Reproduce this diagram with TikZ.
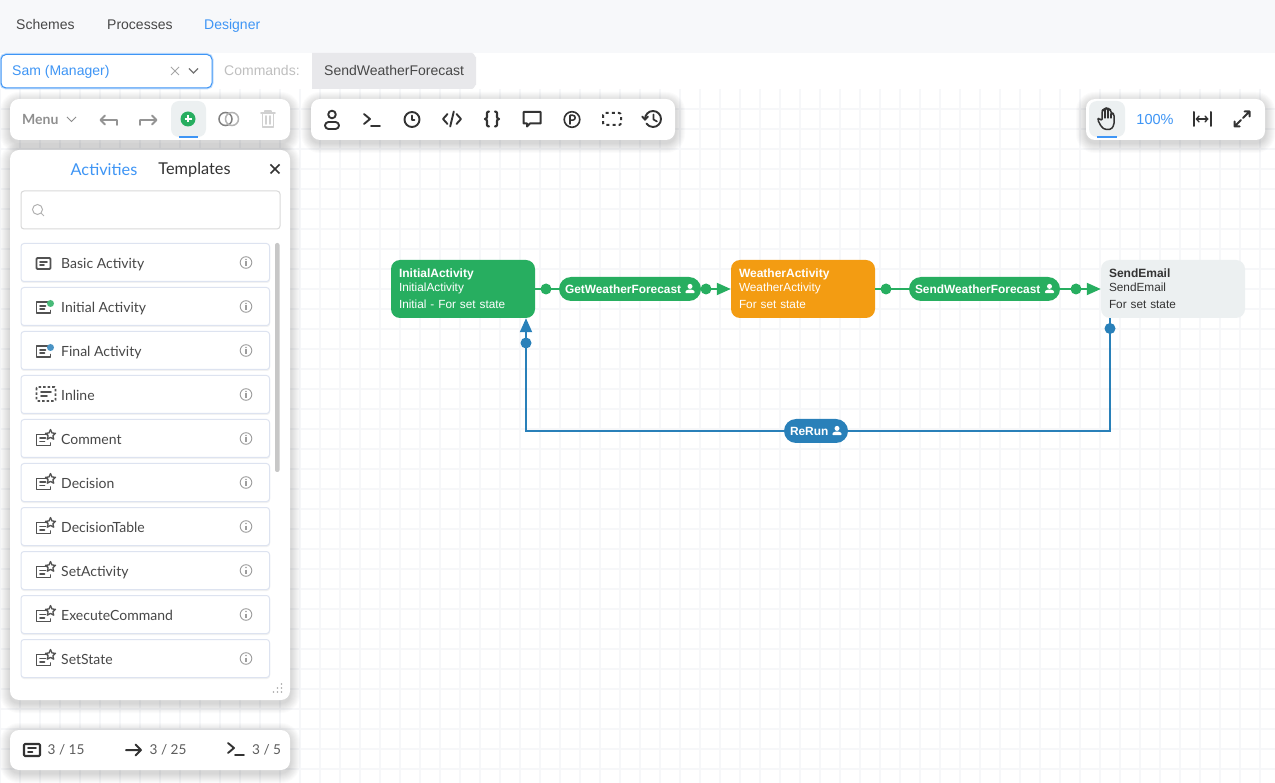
\documentclass[tikz,border=0pt]{standalone}
\usepackage{fontspec}
\setmainfont{Liberation Sans}
\newfontfamily\latofont{Lato}
\usetikzlibrary{arrows.meta,positioning}
\definecolor{flatgreen}{HTML}{27AE60}
\definecolor{flatorange}{HTML}{F39C12}
\definecolor{flatgrey}{HTML}{ECF0F1}
\definecolor{flatblue}{HTML}{2980B9}
\definecolor{uiblue}{HTML}{3E95F5}
\definecolor{gridc}{HTML}{F6F7F9}
\definecolor{topbar}{HTML}{F7F8FA}
\definecolor{cmdbg}{HTML}{E8E8EB}
\definecolor{ink}{HTML}{333333}
\definecolor{muted}{HTML}{8F8F8F}
\definecolor{itemborder}{HTML}{DDE3F0}
\newcommand{\fsz}[1]{\fontsize{#1}{14pt}\selectfont}
\newcommand{\panelbox}[4]{%
  \foreach \sh in {10,9,...,1}{\fill[black,opacity=0.016,rounded corners=9+\sh] (#1-\sh,#2-\sh+3) rectangle (#3+\sh,#4+\sh+3);}
  \fill[white,rounded corners=9] (#1,#2) rectangle (#3,#4);}
\tikzset{
  x=1pt,y=-1pt,
  act/.style={rounded corners=9,minimum height=58,text width=128,inner xsep=8,inner ysep=0,align=left,font=\fsz{11.8}},
  pillnode/.style={rounded corners=12,minimum height=24,inner xsep=6,inner ysep=0,align=left,text=white,font=\bfseries\fsz{11.9}},
  gdot/.style={circle,fill=flatgreen,minimum size=11,inner sep=0},
  bdot/.style={circle,fill=flatblue,minimum size=11,inner sep=0},
  gedge/.style={draw=flatgreen,line width=2},
  garrow/.style={draw=flatgreen,line width=2,-{Triangle[length=14,width=12]}},
  bedge/.style={draw=flatblue,line width=2},
  barrow/.style={draw=flatblue,line width=2,-{Triangle[length=14,width=12]}},
  topnav/.style={font=\fsz{14},text=#1,inner sep=0,text height=10,text depth=0},
  itemtext/.style={font=\latofont\fsz{14},text=ink!90,anchor=west,inner sep=0,text height=10,text depth=0},
  ico/.style={draw=ink,line width=1.9,line cap=round,line join=round},
  pics/iuser/.style={code={\draw[ico] (0,-5.5) circle (3.8);\draw[ico,rounded corners=3.5] (-7,2) rectangle (7,9);}},
  pics/iterm/.style={code={\draw[ico] (-8,-6)--(-2,-1)--(-8,4) (-1,6)--(8,6);}},
  pics/iclock/.style={code={\draw[ico] (0,0) circle (7.5);\draw[ico] (0,-4)--(0,0.5)--(2.5,0.5);}},
  pics/icode/.style={code={\draw[ico] (-4.5,-5)--(-9,0)--(-4.5,5) (4.5,-5)--(9,0)--(4.5,5) (1.8,-7.5)--(-1.8,7.5);}},
  pics/ibrace/.style={code={\draw[ico,line width=2.2] (-3,-7.5)..controls (-6,-7.5) and (-5,-4) ..(-5,-2)..controls (-5,-1) and (-6,0) ..(-7,0)..controls (-6,0) and (-5,1) ..(-5,2)..controls (-5,4) and (-6,7.5) ..(-3,7.5);
     \draw[ico,line width=2.2] (3,-7.5)..controls (6,-7.5) and (5,-4) ..(5,-2)..controls (5,-1) and (6,0) ..(7,0)..controls (6,0) and (5,1) ..(5,2)..controls (5,4) and (6,7.5) ..(3,7.5);}},
  pics/icomment/.style={code={\draw[ico,line width=2] (-8.5,-6.5)--(8.5,-6.5)--(8.5,5)--(-2,5)--(-5,8)--(-5,5)--(-8.5,5)--cycle;}},
  pics/ipark/.style={code={\draw[ico,line width=1.6] (0,0) circle (7.8);\draw[ico,line width=1.6] (-2,4.5)--(-2,-4.2)--(0.8,-4.2) arc[start angle=-90,end angle=90,radius=2.4]--(-2,0.6);}},
  pics/idash/.style={code={\draw[ico,line width=2,dash pattern=on 3pt off 3.2pt,rounded corners=2,line cap=butt] (-9,-6) rectangle (9,6);}},
  pics/ihist/.style={code={\draw[ico,line width=1.9] (-8,0) arc[start angle=180,end angle=505,radius=8]; \draw[ico,line width=1.9] (-10.8,-2.5)--(-8,0.7)--(-5,-2.5); \draw[ico,line width=1.7] (0.5,-4.5)--(0.5,0.5)--(4,2.5);}},
  pics/iundo/.style={code={\draw[ico,draw=black!42] (-8,0)--(8,0)--(8,5) (-4,-4.5)--(-8.5,0)--(-4,4.5);}},
  pics/iredo/.style={code={\draw[ico,draw=black!42] (8,0)--(-8,0)--(-8,5) (4,-4.5)--(8.5,0)--(4,4.5);}},
  pics/itrash/.style={code={\draw[ico,draw=black!18,line width=1.6] (-7,-6)--(7,-6) (-3,-6)--(-3,-8)--(3,-8)--(3,-6) (-5.5,-6)--(-5.5,8)--(5.5,8)--(5.5,-6) (-2,-3)--(-2,5) (2,-3)--(2,5);}},
  pics/ihand/.style={code={\draw[ico,line width=1.5,rounded corners=1.6] (-5,2)--(-8,-1)--(-9.5,0.5)--(-5.5,8)--(-2,10.5)--(4,10.5)--(7,6)--(7,-5)--(5,-6.2)--(4,-5)--(4,-9)--(2,-10)--(1,-9)--(1,-10.5)--(-1,-11)--(-2,-10)--(-2,-9)--(-4,-9.5)--(-5,-8)--cycle;\draw[ico,line width=1.3] (-2,-9)--(-2,-1) (1,-9)--(1,-1) (4,-5)--(4,-1);}},
  pics/ifit/.style={code={\draw[ico,line width=2] (-8.5,-7)--(-8.5,7) (8.5,-7)--(8.5,7) (-5.5,0)--(5.5,0);\draw[ico,line width=1.4] (-3,-2.8)--(-5.7,0)--(-3,2.8) (3,-2.8)--(5.7,0)--(3,2.8);}},
  pics/iexpand/.style={code={\draw[ico,line width=2] (1,-1)--(7.5,-7.5) (2.5,-7.5)--(7.5,-7.5)--(7.5,-2.5) (-1,1)--(-7.5,7.5) (-7.5,2.5)--(-7.5,7.5)--(-2.5,7.5);}},
  pics/icard/.style={code={\draw[ico,line width=1.8,draw=ink!85,rounded corners=1] (-7,-5.5)rectangle(7,5.5);\draw[ico,line width=1.6,draw=ink!85] (-3.5,-1.5)--(3.5,-1.5) (-3.5,1.7)--(0.5,1.7);}},
  pics/icardb/.style={code={\draw[ico,line width=2.1,rounded corners=1] (-8,-6)rectangle(8,6);\draw[ico,line width=1.8] (-4,-1.7)--(4,-1.7) (-4,2)--(0.5,2);}},
  pics/iecard/.style={code={\draw[ico,line width=1.8,draw=ink!85] (4,-5.5)--(-7,-5.5)--(-7,5.5)--(7,5.5)--(7,3);\draw[ico,line width=1.6,draw=ink!85] (-3.5,-1.7)--(2,-1.7) (-3.5,1.7)--(1,1.7);}},
  pics/istar/.style={code={\draw[ico,line width=1.3,draw=ink!85] (0,-5.5)--(1.5,-2)--(5,-1.7)--(2.4,0.7)--(3.2,4.2)--(0,2.4)--(-3.2,4.2)--(-2.4,0.7)--(-5,-1.7)--(-1.5,-2)--cycle;}},
  pics/iinline/.style={code={\draw[ico,line width=1.9,draw=ink!85,dash pattern=on 2.5pt off 2pt,line cap=butt,rounded corners=1] (-9.5,-7)rectangle(9.5,7);\draw[ico,line width=1.6,draw=ink!85] (-5,-2)--(5,-2) (-5,2)--(1,2);}},
  pics/iinfo/.style={code={\draw[draw=black!38,line width=0.9] (0,0) circle (5.8);\fill[black!38] (0,-3) circle (0.8);\draw[draw=black!38,line width=1.1] (0,-1)--(0,3.2);}},
  pics/ipers/.style={code={\fill[white] (0,-2.3) circle (2.5);\fill[white,rounded corners=1] (-4.7,4.4)--(-4.7,2.4)--(-2,0.9)--(2,0.9)--(4.7,2.4)--(4.7,4.4)--cycle;}},
}
\begin{document}
\begin{tikzpicture}
\useasboundingbox (0,0) rectangle (1275,783);
\fill[white] (0,0) rectangle (1275,783);
% grid
\foreach \gx in {0,20,...,1260} \draw[gridc,line width=1.4] (\gx,89)--(\gx,783);
\foreach \gy in {109,129,...,769} \draw[gridc,line width=1.4] (0,\gy)--(1275,\gy);
% top bars
\fill[topbar] (0,0) rectangle (1275,53);
\fill[white] (0,53) rectangle (1275,89);
\node[topnav=ink!90,anchor=west] (navschemes) at (16,25) {Schemes};
\node[topnav=ink!90,anchor=west] (navprocesses) at (107,25) {Processes};
\node[topnav=uiblue,anchor=west] (navdesigner) at (204,25) {Designer};
% select
\draw[uiblue!30,line width=3,rounded corners=5] (1,54.5) rectangle (212,88);
\draw[uiblue,line width=1,fill=white,rounded corners=5] (1,54.5) rectangle (212,88);
\node[topnav=uiblue,anchor=west] (selname) at (12,71) {Sam (Manager)};
\draw[black!35,line width=1] (171,67)--(179,75) (179,67)--(171,75);
\draw[black!55,line width=1.1] (189,68.5)--(193.5,73)--(198,68.5);
\node[topnav=black!25,anchor=west] (cmdlabel) at (224,71) {Commands:};
\fill[cmdbg] (312,53) -- (472,53) to[out=0,in=-90] (476,57) -- (476,85) to[out=90,in=0] (472,89) -- (312,89) -- cycle;
\node[topnav=ink!90,anchor=west] (cmdbtn) at (324,71) {SendWeatherForecast};
% left toolbar
\panelbox{10}{99}{290}{140}
\node[font=\latofont\bfseries\fsz{14},text=muted,anchor=west,inner sep=0] (menutxt) at (22,119) {Menu};
\draw[black!45,line width=0.9] (67,117)--(71.5,121.5)--(76,117);
\pic at (109,120) {iundo};
\pic at (148,120) {iredo};
\fill[flatgrey,rounded corners=8] (171,101) rectangle (206,137);
\fill[flatgreen] (188,119) circle (7.5);
\draw[white,line width=1.5] (184.5,119)--(191.5,119) (188,115.5)--(188,122.5);
\draw[uiblue,line width=1.7] (179,137.2)--(198,137.2);
\draw[black!50,line width=1.5] (225.5,119) circle (6.5);
\draw[black!30,line width=1.5] (232,119) circle (6.5);
\pic at (268,119) {itrash};
% middle toolbar
\panelbox{311}{99}{675}{140}
\pic at (332,120) {iuser};
\pic at (372,120) {iterm};
\pic at (412,119.5) {iclock};
\pic at (452,119) {icode};
\pic at (492,119) {ibrace};
\pic at (532,118.5) {icomment};
\pic at (572,119.5) {ipark};
\pic at (612,119) {idash};
\pic at (653,119) {ihist};
% right toolbar
\panelbox{1086}{99}{1265}{140}
\fill[flatgrey,rounded corners=8] (1089,101) rectangle (1125,137);
\pic at (1107,119) {ihand};
\draw[uiblue,line width=1.7] (1097,137.2)--(1117,137.2);
\node[font=\fsz{14.5},text=uiblue,inner sep=0] (zoomtxt) at (1155,120) {100\%};
\pic at (1202,119) {ifit};
\pic at (1242,119) {iexpand};
% activities panel
\panelbox{10}{150}{290}{700}
\node[font=\latofont\fsz{16.3},text=uiblue,inner sep=0] (tabact) at (104,169.5) {Activities};
\node[font=\latofont\fsz{16.3},text=ink,inner sep=0] (tabtpl) at (194.5,169.5) {Templates};
\draw[ink,line width=1.5] (270.5,164.5)--(279.5,173.5) (279.5,164.5)--(270.5,173.5);
\draw[black!15,line width=1,rounded corners=3] (21,191) rectangle (280,229);
\draw[black!30,line width=1] (37.5,209.5) circle (5) (41,213)--(44,216);
\fill[black!22,rounded corners=2] (275,243) rectangle (279.5,472);
\foreach \iy/\ilabel/\iname in {263/Basic Activity/a,307/Initial Activity/b,351/Final Activity/c,395/Inline/d,439/Comment/e,483/Decision/f,527/DecisionTable/g,571/SetActivity/h,615/ExecuteCommand/i,659/SetState/j}{
  \fill[black,opacity=0.05,rounded corners=3] (21,\iy-19) rectangle (270,\iy+20);
  \draw[itemborder,line width=1,fill=white,rounded corners=3] (21,\iy-19.5) rectangle (269.5,\iy+18.5);
  \node[itemtext] (item\iname) at (61,\iy+0.5) {\ilabel};
  \pic at (246,\iy-0.5) {iinfo};
}
\pic at (43.5,263.5) {icard};
\pic at (43.5,307.5) {iecard}; \fill[flatgreen!85!white] (50.5,303.5) circle (3.5);
\pic at (43.5,351.5) {iecard}; \fill[flatblue!85!white] (50.5,347.5) circle (3.5);
\pic at (46,394) {iinline};
\foreach \iy in {439,483,527,571,615,659}{
  \pic at (43.5,\iy+1) {iecard};
  \pic at (50.5,\iy-4) {istar};
}
\foreach \dx/\dy in {281.5/684,281.5/688,281.5/692,277.5/688,277.5/692,273.5/692} \fill[black!35] (\dx,\dy) circle (0.8);
% bottom panel
\panelbox{10}{730}{290}{770}
\pic at (32,750) {icardb};
\node[font=\latofont\fsz{13.6},text=ink!80,anchor=west,inner sep=0] (cnta) at (47.5,750) {3 / 15};
\draw[ink,line width=2,line cap=round,line join=round] (126,750)--(141,750) (135.5,744.5)--(141,750)--(135.5,755.5);
\node[font=\latofont\fsz{13.6},text=ink!80,anchor=west,inner sep=0] (cntb) at (149.5,750) {3 / 25};
\pic at (236,749) {iterm};
\node[font=\latofont\fsz{13.6},text=ink!80,anchor=west,inner sep=0] (cntc) at (252,750) {3 / 5};
% diagram nodes
\node[act,fill=flatgreen,text=white] (init) at (463,289) {{\fsz{12}\textbf{InitialActivity}}\\InitialActivity\\[3pt]Initial - For set state};
\node[act,fill=flatorange,text=white] (weather) at (803,289) {{\fsz{12}\textbf{WeatherActivity}}\\WeatherActivity\\[3pt]For set state};
\node[act,fill=flatgrey,text=ink] (send) at (1173,289) {{\fsz{12}\textbf{SendEmail}}\\SendEmail\\[3pt]For set state};
\node[pillnode,fill=flatgreen,text width=130] (get) at (630,289) {GetWeatherForecast};
\node[pillnode,fill=flatgreen,text width=139] (swf) at (984.5,289) {SendWeatherForecast};
\node[pillnode,fill=flatblue,text width=52] (rerun) at (816,431) {ReRun};
\pic at (690,288.7) {ipers};
\pic at (1049.5,288.7) {ipers};
\pic at (837,430.7) {ipers};
% connectors
\coordinate (bendl) at (526,431);
\coordinate (bendr) at (1110,431);
\draw[gedge] (init.east)--(get.west);
\draw[garrow] (get.east)--(weather.west);
\draw[gedge] (weather.east)--(swf.west);
\draw[garrow] (swf.east)--(send.west);
\draw[bedge] (send.south -| bendr)--(bendr)--(rerun.east);
\draw[barrow] (rerun.west)--(bendl)--(init.south -| bendl);
\node[gdot] (dot1) at (546,289) {};
\node[gdot] (dot2) at (706,289) {};
\node[gdot] (dot3) at (886,289) {};
\node[gdot] (dot4) at (1076,289) {};
\node[bdot] (dot5) at (1110,328.5) {};
\node[bdot] (dot6) at (526,343) {};
\end{tikzpicture}
\end{document}
